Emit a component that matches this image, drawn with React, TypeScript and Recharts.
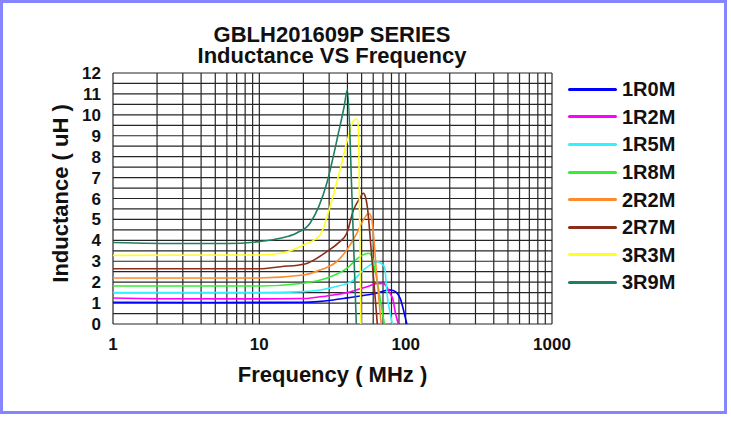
import React from 'react';
import { LineChart, Line, XAxis, YAxis, CartesianGrid, Legend } from 'recharts';

const FONT = '"Liberation Sans", Arial, Helvetica, sans-serif';

const titleLines = ['GBLH201609P SERIES', 'Inductance VS Frequency'];
const xAxisTitle = 'Frequency ( MHz )';
const yAxisTitle = 'Inductance ( uH )';

const seriesNames = ['1R0M', '1R2M', '1R5M', '1R8M', '2R2M', '2R7M', '3R3M', '3R9M'];
const seriesColors = ['#0000ff', '#ff00ff', '#33f2ff', '#33ee33', '#ff8a2a', '#8a2e1a', '#ffff22', '#1f7f62'];

// [frequency MHz, inductance uH]
const s1R0M = [[1, 1.04], [5, 1.03], [20, 1.04], [25, 1.07], [32, 1.15], [40, 1.25], [48.7, 1.34], [63, 1.47], [70, 1.56], [76, 1.63], [82, 1.6], [88, 1.45], [92, 1.2], [96, 0.75], [99, 0.35], [102, 0]];
const s1R2M = [[1, 1.24], [2, 1.21], [10, 1.2], [20, 1.22], [26, 1.3], [32, 1.39], [40, 1.5], [46, 1.63], [54.5, 1.78], [63, 1.93], [70, 1.94], [74, 1.8], [78, 1.47], [82, 1.15], [85, 0.55], [89, 0]];
const s1R5M = [[1, 1.5], [10, 1.5], [20, 1.55], [32, 1.76], [44, 2.1], [51.4, 2.58], [58, 2.85], [65, 2.97], [68, 2.9], [72, 2.7], [73.5, 2.0], [75, 1.3], [78, 0.6], [81, 0]];
const s1R8M = [[1, 1.82], [10, 1.82], [20, 1.95], [30, 2.23], [39.6, 2.66], [48.7, 3.22], [56, 3.38], [59, 3.2], [61.5, 2.6], [65, 1.78], [68, 0.9], [71.5, 0]];
const s2R2M = [[1, 2.2], [10, 2.2], [20, 2.34], [26, 2.58], [33.8, 2.98], [39.6, 3.54], [46.4, 4.34], [51.4, 4.98], [56, 5.28], [58.5, 5.05], [60.2, 4.34], [63.2, 2.43], [66, 1.0], [68, 0]];
const s2R7M = [[1, 2.64], [10, 2.64], [14, 2.74], [20.5, 2.87], [28.9, 3.46], [35, 3.9], [39.6, 4.34], [44, 5.45], [48, 5.95], [51.4, 6.25], [53, 6.1], [54.7, 5.6], [58.5, 3.3], [61, 1.8], [64, 0]];
const s3R3M = [[1, 3.28], [10, 3.3], [14.6, 3.41], [20, 3.78], [26, 4.26], [30.4, 5.61], [35.6, 7.37], [40.6, 8.96], [44.4, 9.76], [46.4, 9.8], [47.5, 9.44], [48.5, 5], [49.5, 0]];
const s3R9M = [[1, 3.9], [3, 3.85], [6, 3.85], [10, 3.94], [13.9, 4.1], [18, 4.35], [22.2, 4.82], [28.9, 6.73], [34.7, 9.12], [38, 10.4], [40, 11.2], [43, 6], [46, 0]];

const seriesData = [s1R0M, s1R2M, s1R5M, s1R8M, s2R2M, s2R7M, s3R3M, s3R9M];

const xTicks = [1, 2, 3, 4, 5, 6, 7, 8, 9, 10, 20, 30, 40, 50, 60, 70, 80, 90, 100, 200, 300, 400, 500, 600, 700, 800, 900, 1000];
const xTickLabels = [1, 10, 100, 1000];
const yTicks = [0, 0.5, 1, 1.5, 2, 2.5, 3, 3.5, 4, 4.5, 5, 5.5, 6, 6.5, 7, 7.5, 8, 8.5, 9, 9.5, 10, 10.5, 11, 11.5, 12];
const yTickLabels = [0, 1, 2, 3, 4, 5, 6, 7, 8, 9, 10, 11, 12];

const toPoints = (arr: number[][]) => arr.map(([f, L]) => ({ f, L }));

const tickStyle = { fill: '#111', fontSize: 17, fontWeight: 'bold', fontFamily: FONT };

const renderLegend = () => (
  <div style={{ fontFamily: FONT }}>
    {seriesNames.map((n, i) => (
      <div key={n} style={{ display: 'flex', alignItems: 'center', height: 27.6 }}>
        <div style={{ width: 49, height: 3, background: seriesColors[i], borderRadius: 1.5 }} />
        <span style={{ marginLeft: 5, fontSize: 20, fontWeight: 'bold', color: '#111', lineHeight: '20px' }}>{n}</span>
      </div>
    ))}
  </div>
);

const YTitle = (props: any) => {
  const vb = props.viewBox || { x: 0, y: 0, width: 0, height: 0 };
  const cx = vb.x + 50;
  const cy = vb.y + vb.height / 2 - 5;
  return (
    <text
      x={cx}
      y={cy}
      transform={`rotate(-90, ${cx}, ${cy})`}
      textAnchor="middle"
      dominantBaseline="central"
      fontSize={22}
      fontWeight="bold"
      fill="#111"
      fontFamily={FONT}
    >
      {yAxisTitle}
    </text>
  );
};

export default function App() {
  return (
    <div style={{ position: 'fixed', left: 0, top: 0, width: 731, height: 422, background: '#fff', overflow: 'hidden' }}>
      <div
        style={{
          position: 'absolute',
          left: 0,
          top: 0,
          width: 727,
          height: 414,
          boxSizing: 'border-box',
          border: '3px solid #8585ff',
        }}
      />
      <div
        style={{
          position: 'absolute',
          left: 132,
          top: 23.6,
          width: 400,
          textAlign: 'center',
          fontFamily: FONT,
          fontWeight: 'bold',
          fontSize: 22,
          lineHeight: '21px',
          color: '#111',
        }}
      >
        {titleLines.map((t) => (
          <div key={t}>{t}</div>
        ))}
      </div>
      <div style={{ position: 'absolute', left: 0, top: 0 }}>
        <LineChart width={731} height={422} margin={{ top: 73, right: 179, bottom: 68, left: 10 }}>
          <CartesianGrid stroke="#262626" strokeWidth={1.2} fill="none" />
          <XAxis
            dataKey="f"
            type="number"
            scale="log"
            domain={[1, 1000]}
            ticks={xTicks}
            interval={0}
            allowDataOverflow
            height={30}
            axisLine={false}
            tickLine={false}
            tickSize={6}
            tickMargin={8}
            tick={tickStyle}
            tickFormatter={(v: number) => (xTickLabels.includes(v) ? String(v) : '')}
            label={{ value: xAxisTitle, position: 'bottom', offset: 12, fontSize: 22, fontWeight: 'bold', fill: '#111', fontFamily: FONT }}
          />
          <YAxis
            type="number"
            dataKey="L"
            domain={[0, 12]}
            ticks={yTicks}
            interval={0}
            width={103}
            axisLine={false}
            tickLine={false}
            tickSize={6}
            tickMargin={6}
            tick={tickStyle}
            tickFormatter={(v: number) => (yTickLabels.includes(v) ? String(v) : '')}
            label={{ content: <YTitle /> }}
          />
          <Legend
            layout="vertical"
            align="center"
            verticalAlign="middle"
            content={renderLegend}
            wrapperStyle={{ position: 'absolute', left: 568, top: 75.5, width: 150, height: 225 }}
          />
          {seriesNames.map((n, i) => (
            <Line
              key={n}
              name={n}
              data={toPoints(seriesData[i])}
              dataKey="L"
              type="monotone"
              stroke={seriesColors[i]}
              strokeWidth={1.6}
              dot={false}
              activeDot={false}
              isAnimationActive={false}
            />
          ))}
        </LineChart>
      </div>
    </div>
  );
}
